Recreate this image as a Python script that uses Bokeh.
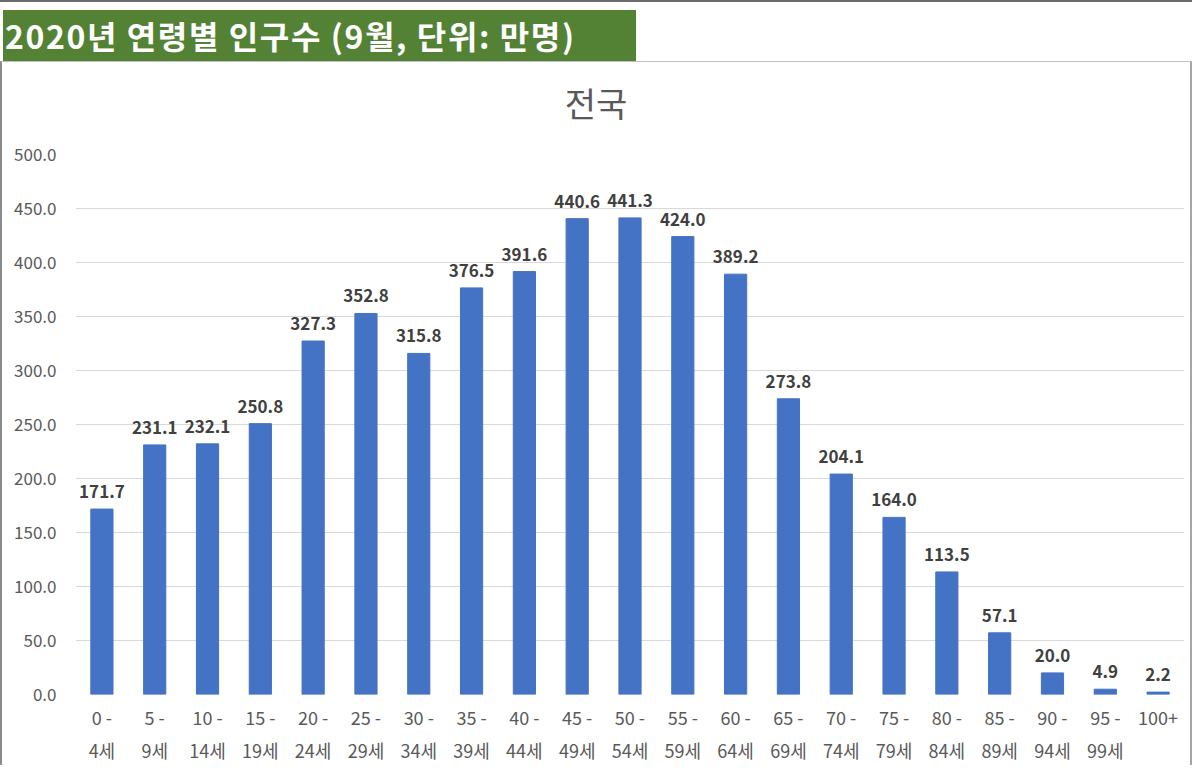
from bokeh.plotting import figure
from bokeh.models import (ColumnDataSource, Div, CategoricalAxis, NumeralTickFormatter,
                          Range1d, FactorRange, FixedTicker)
from bokeh.layouts import column
from bokeh.core.properties import value
from bokeh.embed import file_html
from bokeh.resources import INLINE

# ---- data ----
age_start = ["0 -", "5 -", "10 -", "15 -", "20 -", "25 -", "30 -", "35 -", "40 -", "45 -",
             "50 -", "55 -", "60 -", "65 -", "70 -", "75 -", "80 -", "85 -", "90 -", "95 -", "100+"]
age_end = ["4세", "9세", "14세", "19세", "24세", "29세", "34세", "39세", "44세", "49세",
           "54세", "59세", "64세", "69세", "74세", "79세", "84세", "89세", "94세", "99세", ""]
population = [171.7, 231.1, 232.1, 250.8, 327.3, 352.8, 315.8, 376.5, 391.6, 440.6,
              441.3, 424.0, 389.2, 273.8, 204.1, 164.0, 113.5, 57.1, 20.0, 4.9, 2.2]
y_ticks = [0, 50, 100, 150, 200, 250, 300, 350, 400, 450, 500]

header_text = "2020년 연령별 인구수 (9월, 단위: 만명)"
chart_title = "전국"

FONT = "Noto Sans CJK KR"
labels = [f"{v:.1f}" for v in population]
end_factors = [e if e else " " for e in age_end]

src = ColumnDataSource(dict(x=age_start, top=population, label=labels))

topline = Div(text="", width=1192, height=2, margin=0,
              styles={"background-color": "#6b6b6b"})
header = Div(text=header_text, width=633, height=51, margin=(8, 0, 0, 3),
             styles={"background-color": "#548235", "color": "white",
                     "font-family": FONT, "font-size": "32px", "font-weight": "bold",
                     "letter-spacing": "1.6px",
                     "padding-left": "2px", "line-height": "50px", "white-space": "nowrap"})
title_div = Div(text=chart_title, width=1192, height=80, margin=0,
                styles={"color": "#595959", "font-family": FONT, "font-size": "34px",
                        "text-align": "center", "line-height": "82px",
                        "border-top": "1px solid #bfbfbf", "border-left": "2px solid #8c8c8c",
                        "border-right": "2px solid #a6a6a6", "box-sizing": "border-box",
                        "background-color": "white"})

p = figure(x_range=FactorRange(*age_start), y_range=Range1d(0, 500),
           width=1192, height=624, output_backend="svg", toolbar_location=None,
           min_border_left=73, min_border_right=10, min_border_top=13, min_border_bottom=0,
           x_axis_location=None, margin=0)
p.extra_x_ranges = {"end": FactorRange(*end_factors)}
p.styles = {"border-left": "2px solid #8c8c8c", "border-right": "2px solid #a6a6a6"}
p.outline_line_color = None
p.background_fill_color = "white"
p.border_fill_color = "white"

p.vbar(x="x", top="top", width=0.42, source=src, color="#4472C4")
p.text(x="x", y="top", text="label", source=src, text_align="center",
       text_baseline="bottom", y_offset=-11, text_font=value(FONT),
       text_font_size="17px", text_font_style="bold", text_color="#404040")

# y axis
yax = p.yaxis[0]
yax.ticker = FixedTicker(ticks=y_ticks)
yax.formatter = NumeralTickFormatter(format="0.0")
yax.axis_line_color = None
yax.major_tick_line_color = None
yax.minor_tick_line_color = None
yax.major_label_text_font = FONT
yax.major_label_text_font_size = "17px"
yax.major_label_text_color = "#595959"
yax.major_label_standoff = 13

p.ygrid.ticker = FixedTicker(ticks=y_ticks)
p.ygrid.grid_line_color = "#d9d9d9"
p.xgrid.grid_line_color = None

for i, rng in enumerate(["default", "end"]):
    ax = CategoricalAxis(x_range_name=rng)
    ax.axis_line_color = None
    ax.major_tick_line_color = None
    ax.minor_tick_line_color = None
    ax.major_label_text_font = FONT
    ax.major_label_text_font_size = "18px"
    ax.major_label_text_color = "#595959"
    ax.major_label_standoff = 3 if i == 0 else -2
    p.add_layout(ax, "below")

layout = column(topline, header, title_div, p, spacing=0, margin=0)
open("out.html", "w").write(file_html(layout, INLINE))
